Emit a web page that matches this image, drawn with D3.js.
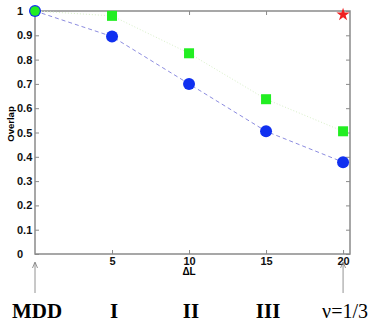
<!DOCTYPE html>
<html>
<head>
<meta charset="utf-8">
<script src="https://cdn.jsdelivr.net/npm/d3@7"></script>
<style>
  body { margin: 0; background: #fff; }
  svg { display: block; }
</style>
</head>
<body>
<div id="chart"></div>
<script>
'use strict';

var deltaL = [0, 5, 10, 15, 20];
var blueOverlap = [1.0, 0.895, 0.70, 0.505, 0.378];
var greenOverlap = [1.0, 0.98, 0.826, 0.637, 0.505];
var starPoint = { x: 20, y: 0.985 };
var xTicks = [5, 10, 15, 20];
var yTicks = [0, 0.1, 0.2, 0.3, 0.4, 0.5, 0.6, 0.7, 0.8, 0.9, 1];
var phaseLabels = [
  { x: 0, text: 'MDD', bold: true },
  { x: 5, text: 'I', bold: true },
  { x: 10, text: 'II', bold: true },
  { x: 15, text: 'III', bold: true },
  { x: 20, text: '\u03bd=1/3', bold: false }
];
var arrowAt = [0, 20];

var w = 374, h = 323;
var plotLeft = 35, plotRight = 350, plotTop = 11, plotBottom = 254;
var frameColor = '#8a8a8a';

var x = d3.scaleLinear().domain([0, 20.45]).range([plotLeft, plotRight]);
var y = d3.scaleLinear().domain([0, 1]).range([plotBottom, plotTop]);

var svg = d3.select('#chart')
  .append('svg')
  .attr('width', w)
  .attr('height', h);

// frame
svg.append('rect')
  .attr('x', plotLeft).attr('y', plotTop)
  .attr('width', plotRight - plotLeft).attr('height', plotBottom - plotTop)
  .attr('fill', 'none')
  .attr('stroke', frameColor)
  .attr('stroke-width', 1.5);

// axes, ticks pointing inward
var xAxis = svg.append('g')
  .attr('transform', 'translate(0,' + plotBottom + ')')
  .call(d3.axisBottom(x).tickValues(xTicks).tickSizeInner(-4).tickSizeOuter(0).tickPadding(3));
var xTop = svg.append('g')
  .attr('transform', 'translate(0,' + plotTop + ')')
  .call(d3.axisTop(x).tickValues(xTicks).tickSizeInner(-4).tickSizeOuter(0).tickFormat(''));
var yAxis = svg.append('g')
  .attr('transform', 'translate(' + plotLeft + ',0)')
  .call(d3.axisLeft(y).tickValues(yTicks).tickSizeInner(-4).tickSizeOuter(0).tickPadding(3)
    .tickFormat(function (d) { return d === 0 || d === 1 ? d3.format('d')(d) : d3.format('.1f')(d); }));
var yRight = svg.append('g')
  .attr('transform', 'translate(' + plotRight + ',0)')
  .call(d3.axisRight(y).tickValues(yTicks).tickSizeInner(-4).tickSizeOuter(0).tickFormat(''));

[xAxis, xTop, yAxis, yRight].forEach(function (g) {
  g.select('.domain').remove();
  g.selectAll('line').attr('stroke', frameColor);
  g.selectAll('text')
    .attr('font-family', 'Liberation Sans, Arial, sans-serif')
    .attr('font-size', 11)
    .attr('font-weight', 'bold')
    .attr('fill', '#111');
});

// y labels sit left-aligned in the reference
yAxis.selectAll('text')
  .attr('text-anchor', 'start')
  .attr('x', 17 - plotLeft);

// axis titles
svg.append('text')
  .attr('x', x(10))
  .attr('y', 275)
  .attr('text-anchor', 'middle')
  .attr('font-family', 'Liberation Sans, Arial, sans-serif')
  .attr('font-size', 10)
  .attr('font-weight', 'bold')
  .text('\u0394L');

svg.append('text')
  .attr('transform', 'translate(14,' + 124 + ') rotate(-90)')
  .attr('text-anchor', 'middle')
  .attr('font-family', 'Liberation Sans, Arial, sans-serif')
  .attr('font-size', 9.5)
  .attr('font-weight', 'bold')
  .text('Overlap');

// lines
var line = d3.line()
  .x(function (d) { return x(d[0]); })
  .y(function (d) { return y(d[1]); });

var greenPts = d3.zip(deltaL, greenOverlap);
var bluePts = d3.zip(deltaL, blueOverlap);

svg.append('path')
  .attr('d', line(greenPts))
  .attr('fill', 'none')
  .attr('stroke', '#d8f0c8')
  .attr('stroke-width', 1)
  .attr('stroke-dasharray', '1,2');

svg.append('path')
  .attr('d', line(bluePts))
  .attr('fill', 'none')
  .attr('stroke', '#8c8ce0')
  .attr('stroke-width', 1)
  .attr('stroke-dasharray', '4,3');

// markers
svg.selectAll('.blue')
  .data(bluePts)
  .enter().append('circle')
  .attr('class', 'blue')
  .attr('cx', function (d) { return x(d[0]); })
  .attr('cy', function (d) { return y(d[1]); })
  .attr('r', 6)
  .attr('fill', '#1030f0');

svg.selectAll('.green')
  .data(greenPts.slice(1))
  .enter().append('rect')
  .attr('class', 'green')
  .attr('x', function (d) { return x(d[0]) - 5; })
  .attr('y', function (d) { return y(d[1]) - 5; })
  .attr('width', 10)
  .attr('height', 10)
  .attr('fill', '#22ee22');

// first point: green disc on the blue one
svg.append('circle')
  .attr('cx', x(greenPts[0][0]))
  .attr('cy', y(greenPts[0][1]))
  .attr('r', 4.8)
  .attr('fill', '#22ee22');

svg.append('path')
  .attr('d', d3.symbol().type(d3.symbolStar).size(55)())
  .attr('transform', 'translate(' + x(starPoint.x) + ',' + y(starPoint.y) + ')')
  .attr('fill', '#f02020');

// arrows below the axis
arrowAt.forEach(function (v) {
  var ax = x(v);
  svg.append('line')
    .attr('x1', ax).attr('x2', ax)
    .attr('y1', 293).attr('y2', 263)
    .attr('stroke', '#777')
    .attr('stroke-width', 0.8);
  svg.append('path')
    .attr('d', 'M' + (ax - 2.5) + ',' + 268 + 'L' + ax + ',' + 262 + 'L' + (ax + 2.5) + ',' + 268)
    .attr('fill', 'none')
    .attr('stroke', '#777')
    .attr('stroke-width', 0.8);
});

// phase labels
svg.selectAll('.phase')
  .data(phaseLabels)
  .enter().append('text')
  .attr('class', 'phase')
  .attr('x', function (d) { return x(d.x) + 2; })
  .attr('y', 318)
  .attr('text-anchor', 'middle')
  .attr('font-family', 'Liberation Serif, Times New Roman, serif')
  .attr('font-size', function (d) { return d.bold ? 21 : 20; })
  .attr('font-weight', function (d) { return d.bold ? 'bold' : 'normal'; })
  .attr('fill', '#000')
  .text(function (d) { return d.text; });
</script>
</body>
</html>
